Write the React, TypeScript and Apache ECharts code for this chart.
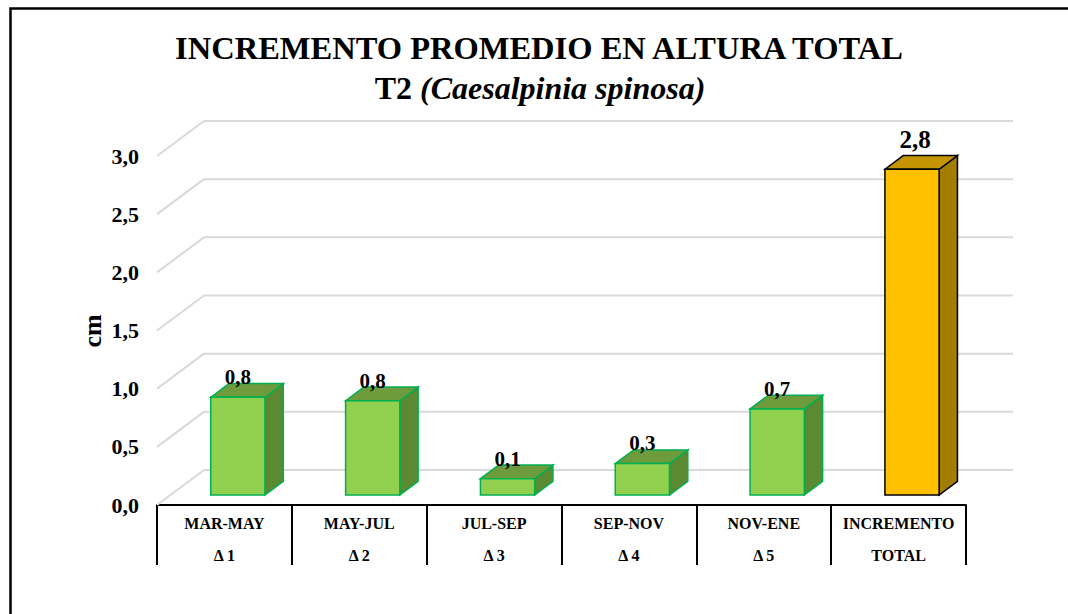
import React, { useEffect, useRef } from "react";
import * as echarts from "echarts";

const periods = ["MAR-MAY", "MAY-JUL", "JUL-SEP", "SEP-NOV", "NOV-ENE", "INCREMENTO"];
const subLabels = ["Δ 1", "Δ 2", "Δ 3", "Δ 4", "Δ 5", "TOTAL"];
const values = [0.84, 0.81, 0.14, 0.27, 0.74, 2.8];
const yTicks = [0, 0.5, 1, 1.5, 2, 2.5, 3];

const FONT = '"Liberation Serif", "Times New Roman", serif';
const DX = 47;
const DY = -35;
const fmt = (v: number) => v.toFixed(1).replace(".", ",");

export default function App() {
  const ref = useRef<HTMLDivElement>(null);
  useEffect(() => {
    if (!ref.current) return;
    const chart = echarts.init(ref.current, null, { renderer: "svg" });
    const categories = periods.map((p, i) => p + "\n" + subLabels[i]);
    const option: any = {
      animation: false,
      backgroundColor: "#ffffff",
      grid: { left: 157, right: 102, top: 156, bottom: 109 },
      xAxis: {
        type: "category",
        data: categories,
        boundaryGap: true,
        axisLine: { show: true, lineStyle: { color: "#000", width: 2 } },
        axisTick: { show: true, length: 60, lineStyle: { color: "#000", width: 2 } },
        axisLabel: {
          interval: 0,
          margin: 2,
          lineHeight: 32,
          fontFamily: FONT,
          fontWeight: "bold",
          fontSize: 16,
          color: "#000",
        },
      },
      yAxis: {
        type: "value",
        min: 0,
        max: 3,
        interval: 0.5,
        axisLine: { show: false },
        axisTick: { show: false },
        splitLine: { show: false },
        axisLabel: {
          margin: 18,
          formatter: (v: number) => fmt(v),
          fontFamily: FONT,
          fontWeight: "bold",
          fontSize: 22,
          color: "#000",
        },
      },
      graphic: [
        {
          type: "rect",
          shape: { x: 10.5, y: 8.5, width: 1200, height: 800 },
          style: { fill: "none", stroke: "#000", lineWidth: 2.5 },
          silent: true,
        },
        {
          type: "text",
          x: 539,
          y: 48,
          style: {
            text: "INCREMENTO PROMEDIO EN ALTURA TOTAL",
            align: "center",
            verticalAlign: "middle",
            fontFamily: FONT,
            fontWeight: "bold",
            fontSize: 32.5,
            fill: "#000",
          },
        },
        {
          type: "text",
          x: 540,
          y: 88,
          style: {
            text: "{a|T2 }{b|(Caesalpinia spinosa)}",
            align: "center",
            verticalAlign: "middle",
            rich: {
              a: { fontFamily: FONT, fontWeight: "bold", fontSize: 32, fill: "#000", color: "#000" },
              b: {
                fontFamily: FONT,
                fontWeight: "bold",
                fontStyle: "italic",
                fontSize: 32,
                fill: "#000",
                color: "#000",
              },
            },
          },
        },
        {
          type: "text",
          x: 92,
          y: 331,
          rotation: Math.PI / 2,
          style: {
            text: "cm",
            align: "center",
            verticalAlign: "middle",
            fontFamily: FONT,
            fontWeight: "bold",
            fontSize: 26,
            fill: "#000",
          },
        },
      ],
      series: [
        {
          type: "custom",
          silent: true,
          z: 1,
          data: yTicks.map((v) => [0, v]),
          encode: { x: 0, y: 1 },
          renderItem: (params: any, api: any) => {
            const cs = params.coordSys;
            const y = api.coord([0, api.value(1)])[1];
            const st = { stroke: "#D9D9D9", lineWidth: 2 };
            return {
              type: "group",
              children: [
                { type: "line", shape: { x1: cs.x, y1: y, x2: cs.x + DX, y2: y + DY }, style: st },
                {
                  type: "line",
                  shape: { x1: cs.x + DX, y1: y + DY, x2: cs.x + cs.width + DX, y2: y + DY },
                  style: st,
                },
              ],
            };
          },
        },
        {
          type: "custom",
          z: 2,
          data: values.map((v, i) => [i, v]),
          encode: { x: 0, y: 1 },
          renderItem: (params: any, api: any) => {
            const i = api.value(0);
            const v = api.value(1);
            const base = api.coord([i, 0]);
            const top = api.coord([i, v]);
            const band = api.size([1, 0])[0];
            const w = band * 0.402;
            const z0 = 0.286;
            const z1 = 0.39;
            const fx = base[0] + DX * z0 - w / 2;
            const fyB = base[1] + DY * z0;
            const fy = top[1] + DY * z0;
            const h = fyB - fy;
            const dx = DX * z1;
            const dy = DY * z1;
            const isTotal = i === values.length - 1;
            const front = isTotal ? "#FFC000" : "#92D050";
            const side = isTotal ? "#A27D00" : "#5B8A32";
            const topC = isTotal ? "#C49500" : "#6E9B3C";
            const stroke = isTotal ? "#000000" : "#00B050";
            const lw = 1.5;
            return {
              type: "group",
              children: [
                {
                  type: "polygon",
                  shape: {
                    points: [
                      [fx + w, fy],
                      [fx + w + dx, fy + dy],
                      [fx + w + dx, fy + h + dy],
                      [fx + w, fy + h],
                    ],
                  },
                  style: { fill: side, stroke, lineWidth: lw },
                },
                {
                  type: "polygon",
                  shape: {
                    points: [
                      [fx, fy],
                      [fx + dx, fy + dy],
                      [fx + w + dx, fy + dy],
                      [fx + w, fy],
                    ],
                  },
                  style: { fill: topC, stroke, lineWidth: lw },
                },
                {
                  type: "rect",
                  shape: { x: fx, y: fy, width: w, height: h },
                  style: { fill: front, stroke, lineWidth: lw },
                },
                {
                  type: "text",
                  x: fx + w / 2 + (isTotal ? 3 : 0),
                  y: fy + dy + (isTotal ? -4 : 4),
                  style: {
                    text: fmt(v),
                    align: "center",
                    verticalAlign: "bottom",
                    fontFamily: FONT,
                    fontWeight: "bold",
                    fontSize: isTotal ? 25 : 21,
                    fill: "#000",
                  },
                },
              ],
            };
          },
        },
      ],
    };
    chart.setOption(option);
    return () => chart.dispose();
  }, []);
  return (
    <div
      ref={ref}
      style={{ position: "fixed", left: 0, top: 0, width: 1068, height: 614, background: "#fff" }}
    />
  );
}
